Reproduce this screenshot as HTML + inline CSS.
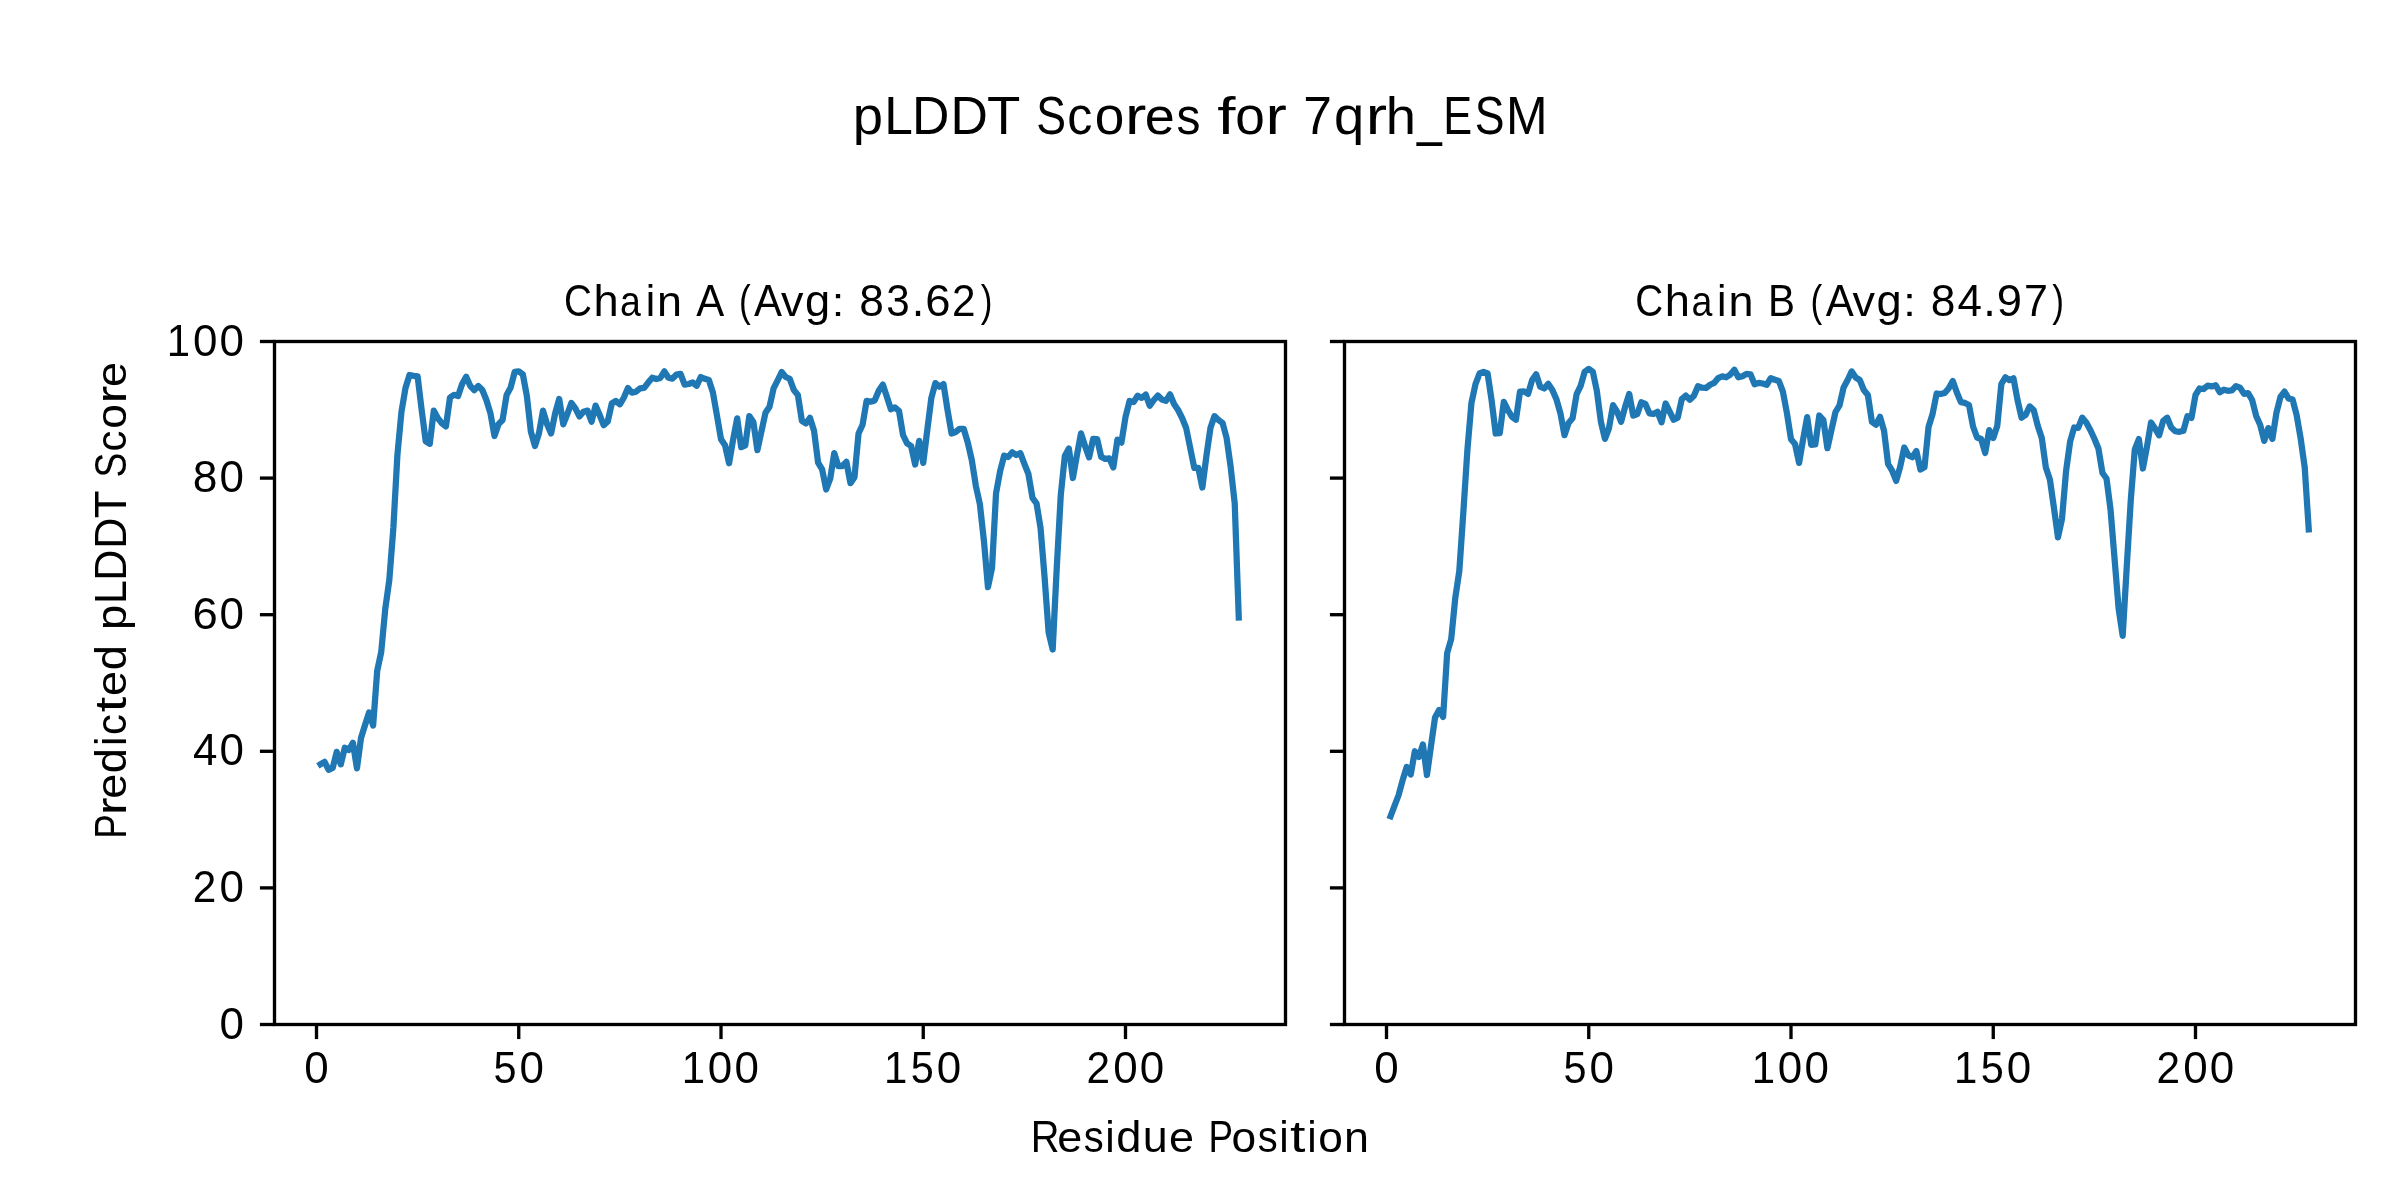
<!DOCTYPE html><html><head><meta charset="utf-8"><style>html,body{margin:0;padding:0;background:#fff;overflow:hidden}svg{display:block}text{font-family:"Liberation Sans",sans-serif;fill:#000}.t{opacity:0.999}</style></head><body>
<svg width="2400" height="1200" viewBox="0 0 2400 1200">
<rect width="2400" height="1200" fill="#fff"/>
<polyline points="320.55,764.30 324.59,761.90 328.63,769.80 332.68,768.00 336.73,751.90 340.77,764.40 344.81,747.70 348.86,750.00 352.90,742.70 356.95,768.30 361.00,738.00 365.04,725.00 369.08,712.50 373.13,725.50 377.18,671.00 381.22,652.00 385.26,609.00 389.31,580.00 393.36,528.00 397.40,455.00 401.44,412.00 405.49,388.00 409.53,375.00 413.58,375.80 417.62,376.40 421.67,410.00 425.72,441.30 429.76,443.80 433.81,410.60 437.85,418.30 441.89,423.30 445.94,426.40 449.99,397.50 454.03,394.80 458.07,396.00 462.12,384.00 466.16,376.80 470.21,385.80 474.25,390.20 478.30,386.00 482.35,390.00 486.39,400.00 490.44,413.30 494.48,436.00 498.52,424.20 502.57,420.00 506.62,395.00 510.66,387.50 514.70,371.90 518.75,371.40 522.79,374.20 526.84,395.80 530.88,431.70 534.93,446.00 538.98,433.30 543.02,410.60 547.07,424.20 551.11,433.50 555.15,413.30 559.20,398.90 563.25,424.30 567.29,414.20 571.34,403.00 575.38,408.30 579.42,416.40 583.47,411.70 587.51,410.60 591.56,421.80 595.61,405.60 599.65,415.00 603.69,425.20 607.74,421.50 611.78,403.50 615.83,401.00 619.88,404.30 623.92,397.50 627.96,388.10 632.01,392.70 636.06,391.70 640.10,388.30 644.14,387.90 648.19,382.50 652.24,377.70 656.28,379.00 660.33,377.90 664.37,371.40 668.41,377.70 672.46,378.70 676.50,374.50 680.55,373.80 684.60,384.60 688.64,384.00 692.68,382.50 696.73,385.80 700.77,377.00 704.82,378.80 708.87,380.00 712.91,392.50 716.95,415.50 721.00,439.30 725.05,445.30 729.09,463.20 733.13,439.40 737.18,418.30 741.22,447.20 745.27,445.30 749.32,416.10 753.36,422.00 757.40,450.20 761.45,431.30 765.50,412.70 769.54,406.70 773.59,388.30 777.63,380.40 781.67,372.10 785.72,377.00 789.76,378.75 793.81,390.00 797.86,395.00 801.90,420.80 805.94,423.50 809.99,417.90 814.03,430.70 818.08,462.70 822.12,469.30 826.17,489.50 830.22,478.70 834.26,453.10 838.30,466.00 842.35,466.00 846.39,461.80 850.44,483.20 854.49,477.30 858.53,433.50 862.58,424.70 866.62,400.80 870.66,401.70 874.71,400.40 878.75,390.80 882.80,384.60 886.85,396.70 890.89,409.20 894.93,407.50 898.98,410.80 903.02,435.00 907.07,443.30 911.12,446.00 915.16,464.50 919.21,440.80 923.25,462.90 927.29,430.00 931.34,398.00 935.38,383.10 939.43,386.70 943.48,384.10 947.52,410.00 951.56,433.50 955.61,432.00 959.65,428.75 963.70,428.75 967.75,442.50 971.79,460.00 975.84,485.80 979.88,504.20 983.92,540.80 987.97,587.20 992.01,568.00 996.06,493.20 1000.11,471.20 1004.15,455.60 1008.19,457.00 1012.24,452.30 1016.28,455.00 1020.33,453.20 1024.38,463.80 1028.42,474.00 1032.47,497.80 1036.51,503.30 1040.55,528.00 1044.60,577.50 1048.64,632.50 1052.69,649.50 1056.74,568.00 1060.78,495.00 1064.82,456.00 1068.87,448.40 1072.91,478.00 1076.96,455.00 1081.01,433.40 1085.05,446.00 1089.10,457.40 1093.14,438.90 1097.18,439.10 1101.23,457.00 1105.28,458.90 1109.32,458.30 1113.37,467.40 1117.41,439.60 1121.45,442.60 1125.50,417.00 1129.55,401.00 1133.59,402.00 1137.63,395.80 1141.68,397.90 1145.72,394.60 1149.77,405.80 1153.82,400.00 1157.86,395.60 1161.90,399.50 1165.95,400.90 1169.99,394.30 1174.04,404.00 1178.09,410.00 1182.13,418.00 1186.17,428.00 1190.22,448.00 1194.26,468.00 1198.31,467.80 1202.36,487.50 1206.40,456.00 1210.44,428.00 1214.49,416.10 1218.53,420.00 1222.58,423.00 1226.62,438.00 1230.67,467.00 1234.72,503.30 1238.76,617.60" fill="none" stroke="#1f77b4" stroke-width="6.25" stroke-linejoin="round" stroke-linecap="square"/>
<polyline points="1390.55,816.25 1394.59,805.60 1398.63,795.00 1402.68,780.00 1406.72,766.90 1410.77,774.40 1414.82,751.25 1418.86,756.90 1422.90,744.40 1426.95,775.00 1430.99,746.00 1435.04,717.50 1439.09,710.00 1443.13,716.90 1447.17,653.00 1451.22,639.00 1455.27,598.00 1459.31,571.00 1463.36,512.00 1467.40,450.00 1471.44,403.00 1475.49,384.20 1479.54,373.50 1483.58,371.80 1487.62,373.50 1491.67,400.80 1495.71,433.50 1499.76,433.10 1503.81,401.80 1507.85,410.00 1511.89,416.70 1515.94,419.75 1519.98,391.70 1524.03,391.40 1528.08,393.90 1532.12,380.00 1536.16,374.30 1540.21,386.70 1544.26,388.50 1548.30,383.90 1552.35,390.00 1556.39,399.20 1560.43,413.30 1564.48,435.20 1568.53,423.00 1572.57,418.30 1576.62,394.20 1580.66,385.80 1584.70,371.70 1588.75,368.90 1592.80,371.70 1596.84,390.80 1600.88,421.70 1604.93,438.90 1608.97,428.30 1613.02,405.20 1617.07,411.70 1621.11,421.80 1625.15,406.70 1629.20,393.90 1633.24,415.60 1637.29,414.00 1641.34,402.30 1645.38,404.00 1649.42,413.30 1653.47,413.90 1657.51,411.80 1661.56,422.30 1665.61,403.50 1669.65,411.70 1673.69,419.75 1677.74,417.70 1681.78,399.20 1685.83,395.60 1689.88,399.75 1693.92,395.80 1697.96,386.30 1702.01,387.70 1706.06,388.00 1710.10,384.75 1714.14,382.90 1718.19,378.10 1722.24,376.40 1726.28,377.25 1730.33,374.60 1734.37,369.75 1738.41,377.25 1742.46,376.25 1746.51,373.90 1750.55,374.30 1754.60,384.30 1758.64,382.90 1762.68,383.50 1766.73,384.75 1770.78,378.10 1774.82,379.75 1778.87,381.00 1782.91,391.70 1786.95,413.30 1791.00,439.30 1795.05,444.00 1799.09,462.90 1803.13,439.30 1807.18,417.10 1811.22,444.90 1815.27,444.50 1819.32,415.50 1823.36,420.00 1827.40,448.20 1831.45,430.00 1835.49,412.00 1839.54,405.30 1843.59,387.50 1847.63,380.00 1851.67,371.40 1855.72,377.50 1859.76,380.00 1863.81,390.00 1867.86,395.00 1871.90,421.70 1875.94,424.80 1879.99,416.80 1884.03,430.70 1888.08,464.00 1892.12,470.70 1896.17,480.90 1900.22,466.70 1904.26,447.50 1908.30,455.30 1912.35,457.20 1916.39,451.10 1920.44,469.50 1924.49,467.30 1928.53,427.00 1932.58,414.00 1936.62,393.50 1940.66,394.00 1944.71,393.00 1948.76,388.30 1952.80,381.00 1956.85,392.50 1960.89,402.10 1964.93,402.90 1968.98,405.00 1973.03,426.50 1977.07,437.50 1981.12,439.00 1985.16,453.00 1989.20,430.20 1993.25,438.00 1997.30,425.80 2001.34,384.00 2005.38,377.30 2009.43,380.20 2013.47,378.30 2017.52,400.00 2021.57,417.70 2025.61,415.00 2029.65,406.40 2033.70,410.00 2037.74,425.80 2041.79,438.00 2045.84,467.50 2049.88,479.40 2053.93,507.80 2057.97,537.30 2062.01,518.80 2066.06,471.20 2070.11,441.70 2074.15,427.50 2078.19,427.90 2082.24,417.70 2086.28,422.50 2090.33,430.00 2094.38,438.80 2098.42,448.50 2102.47,473.00 2106.51,478.50 2110.55,509.70 2114.60,559.20 2118.64,608.70 2122.69,635.80 2126.74,567.00 2130.78,500.00 2134.82,449.30 2138.87,439.10 2142.91,468.50 2146.96,446.70 2151.01,422.50 2155.05,428.50 2159.10,435.30 2163.14,421.00 2167.18,417.70 2171.23,427.50 2175.28,431.25 2179.32,431.80 2183.36,430.80 2187.41,416.25 2191.45,417.90 2195.50,395.00 2199.55,388.50 2203.59,389.00 2207.64,385.60 2211.68,386.40 2215.72,385.20 2219.77,392.25 2223.82,389.75 2227.86,390.80 2231.90,390.40 2235.95,386.10 2239.99,387.60 2244.04,393.90 2248.09,393.10 2252.13,400.00 2256.18,416.00 2260.22,425.00 2264.26,440.90 2268.31,428.10 2272.36,438.90 2276.40,413.00 2280.44,397.00 2284.49,391.60 2288.53,398.40 2292.58,399.60 2296.62,415.00 2300.67,438.50 2304.72,467.50 2308.76,529.40" fill="none" stroke="#1f77b4" stroke-width="6.25" stroke-linejoin="round" stroke-linecap="square"/>
<rect x="274.5" y="341.5" width="1011.0" height="683.0" fill="none" stroke="#000" stroke-width="3.33" stroke-linejoin="miter"/>
<line x1="259.92" y1="1024.50" x2="274.50" y2="1024.50" stroke="#000" stroke-width="3.33"/>
<line x1="259.92" y1="887.90" x2="274.50" y2="887.90" stroke="#000" stroke-width="3.33"/>
<line x1="259.92" y1="751.30" x2="274.50" y2="751.30" stroke="#000" stroke-width="3.33"/>
<line x1="259.92" y1="614.70" x2="274.50" y2="614.70" stroke="#000" stroke-width="3.33"/>
<line x1="259.92" y1="478.10" x2="274.50" y2="478.10" stroke="#000" stroke-width="3.33"/>
<line x1="259.92" y1="341.50" x2="274.50" y2="341.50" stroke="#000" stroke-width="3.33"/>
<line x1="316.50" y1="1024.50" x2="316.50" y2="1039.08" stroke="#000" stroke-width="3.33"/>
<line x1="518.75" y1="1024.50" x2="518.75" y2="1039.08" stroke="#000" stroke-width="3.33"/>
<line x1="721.00" y1="1024.50" x2="721.00" y2="1039.08" stroke="#000" stroke-width="3.33"/>
<line x1="923.25" y1="1024.50" x2="923.25" y2="1039.08" stroke="#000" stroke-width="3.33"/>
<line x1="1125.50" y1="1024.50" x2="1125.50" y2="1039.08" stroke="#000" stroke-width="3.33"/>
<rect x="1344.5" y="341.5" width="1011.0" height="683.0" fill="none" stroke="#000" stroke-width="3.33" stroke-linejoin="miter"/>
<line x1="1329.92" y1="1024.50" x2="1344.50" y2="1024.50" stroke="#000" stroke-width="3.33"/>
<line x1="1329.92" y1="887.90" x2="1344.50" y2="887.90" stroke="#000" stroke-width="3.33"/>
<line x1="1329.92" y1="751.30" x2="1344.50" y2="751.30" stroke="#000" stroke-width="3.33"/>
<line x1="1329.92" y1="614.70" x2="1344.50" y2="614.70" stroke="#000" stroke-width="3.33"/>
<line x1="1329.92" y1="478.10" x2="1344.50" y2="478.10" stroke="#000" stroke-width="3.33"/>
<line x1="1329.92" y1="341.50" x2="1344.50" y2="341.50" stroke="#000" stroke-width="3.33"/>
<line x1="1386.50" y1="1024.50" x2="1386.50" y2="1039.08" stroke="#000" stroke-width="3.33"/>
<line x1="1588.75" y1="1024.50" x2="1588.75" y2="1039.08" stroke="#000" stroke-width="3.33"/>
<line x1="1791.00" y1="1024.50" x2="1791.00" y2="1039.08" stroke="#000" stroke-width="3.33"/>
<line x1="1993.25" y1="1024.50" x2="1993.25" y2="1039.08" stroke="#000" stroke-width="3.33"/>
<line x1="2195.50" y1="1024.50" x2="2195.50" y2="1039.08" stroke="#000" stroke-width="3.33"/>
<g class="t">
<text transform="matrix(1.0889 0 0 1.0418 852.79 134.00)" font-size="50.00">p</text>
<text transform="matrix(1.0297 0 0 1.0596 884.21 134.00)" font-size="50.00">L</text>
<text transform="matrix(1.0355 0 0 1.0596 912.06 134.00)" font-size="50.00">D</text>
<text transform="matrix(1.0355 0 0 1.0596 950.60 134.00)" font-size="50.00">D</text>
<text transform="matrix(1.0916 0 0 1.0596 987.09 134.00)" font-size="50.00">T</text>
<text transform="matrix(0.8922 0 0 1.0629 1036.21 134.00)" font-size="50.00">S</text>
<text transform="matrix(1.0042 0 0 1.0408 1067.33 134.00)" font-size="50.00">c</text>
<text transform="matrix(1.0640 0 0 1.0408 1094.75 134.00)" font-size="50.00">o</text>
<text transform="matrix(1.2823 0 0 1.0408 1125.12 134.00)" font-size="50.00">r</text>
<text transform="matrix(1.0810 0 0 1.0408 1144.78 134.00)" font-size="50.00">e</text>
<text transform="matrix(0.9594 0 0 1.0437 1176.48 134.00)" font-size="50.00">s</text>
<text transform="matrix(1.3142 0 0 1.0499 1217.30 134.00)" font-size="50.00">f</text>
<text transform="matrix(1.0640 0 0 1.0408 1235.22 134.00)" font-size="50.00">o</text>
<text transform="matrix(1.2823 0 0 1.0408 1265.60 134.00)" font-size="50.00">r</text>
<text transform="matrix(1.0320 0 0 1.0596 1303.25 134.00)" font-size="50.00">7</text>
<text transform="matrix(1.0866 0 0 1.0408 1334.11 134.00)" font-size="50.00">q</text>
<text transform="matrix(1.2823 0 0 1.0408 1365.68 134.00)" font-size="50.00">r</text>
<text transform="matrix(1.0866 0 0 1.0485 1385.87 134.00)" font-size="50.00">h</text>
<text transform="matrix(0.8926 0 0 1.1867 1416.99 134.00)" font-size="50.00">_</text>
<text transform="matrix(0.8674 0 0 1.0596 1443.18 134.00)" font-size="50.00">E</text>
<text transform="matrix(0.8922 0 0 1.0629 1474.72 134.00)" font-size="50.00">S</text>
<text transform="matrix(0.9979 0 0 1.0596 1506.03 134.00)" font-size="50.00">M</text>
<text transform="matrix(0.9280 0 0 1.0629 564.04 315.85)" font-size="41.67">C</text>
<text transform="matrix(1.0853 0 0 1.0485 593.39 315.85)" font-size="41.67">h</text>
<text transform="matrix(0.8989 0 0 1.0408 620.05 315.85)" font-size="41.67">a</text>
<text transform="matrix(1.0219 0 0 1.0485 645.75 315.85)" font-size="41.67">i</text>
<text transform="matrix(1.0778 0 0 1.0408 657.04 315.85)" font-size="41.67">n</text>
<text transform="matrix(1.0070 0 0 1.0596 696.13 315.85)" font-size="41.67">A</text>
<text transform="matrix(0.8450 0 0 1.0472 739.01 315.85)" font-size="41.67">(</text>
<text transform="matrix(1.0070 0 0 1.0596 754.11 315.85)" font-size="41.67">A</text>
<text transform="matrix(1.0789 0 0 1.0351 781.01 315.85)" font-size="41.67">v</text>
<text transform="matrix(1.0865 0 0 1.0437 804.97 315.85)" font-size="41.67">g</text>
<text transform="matrix(1.0817 0 0 0.9787 831.78 315.85)" font-size="41.67">:</text>
<text transform="matrix(1.0652 0 0 1.0629 859.18 315.85)" font-size="41.67">8</text>
<text transform="matrix(1.0120 0 0 1.0629 886.35 315.85)" font-size="41.67">3</text>
<text transform="matrix(1.0817 0 0 1.1598 911.63 315.85)" font-size="41.67">.</text>
<text transform="matrix(1.0906 0 0 1.0629 925.13 315.85)" font-size="41.67">6</text>
<text transform="matrix(1.0157 0 0 1.0629 951.95 315.85)" font-size="41.67">2</text>
<text transform="matrix(0.8450 0 0 1.0472 980.66 315.85)" font-size="41.67">)</text>
<text transform="matrix(0.9287 0 0 1.0629 1635.33 315.85)" font-size="41.67">C</text>
<text transform="matrix(1.0861 0 0 1.0485 1664.71 315.85)" font-size="41.67">h</text>
<text transform="matrix(0.8996 0 0 1.0408 1691.40 315.85)" font-size="41.67">a</text>
<text transform="matrix(1.0227 0 0 1.0485 1717.11 315.85)" font-size="41.67">i</text>
<text transform="matrix(1.0786 0 0 1.0408 1728.41 315.85)" font-size="41.67">n</text>
<text transform="matrix(0.9720 0 0 1.0596 1768.05 315.85)" font-size="41.67">B</text>
<text transform="matrix(0.8457 0 0 1.0472 1810.52 315.85)" font-size="41.67">(</text>
<text transform="matrix(1.0078 0 0 1.0596 1825.63 315.85)" font-size="41.67">A</text>
<text transform="matrix(1.0797 0 0 1.0351 1852.55 315.85)" font-size="41.67">v</text>
<text transform="matrix(1.0873 0 0 1.0437 1876.53 315.85)" font-size="41.67">g</text>
<text transform="matrix(1.0825 0 0 0.9787 1903.36 315.85)" font-size="41.67">:</text>
<text transform="matrix(1.0660 0 0 1.0629 1930.78 315.85)" font-size="41.67">8</text>
<text transform="matrix(1.0547 0 0 1.0596 1957.43 315.85)" font-size="41.67">4</text>
<text transform="matrix(1.0825 0 0 1.1598 1983.27 315.85)" font-size="41.67">.</text>
<text transform="matrix(1.0893 0 0 1.0629 1996.68 315.85)" font-size="41.67">9</text>
<text transform="matrix(1.0316 0 0 1.0596 2023.91 315.85)" font-size="41.67">7</text>
<text transform="matrix(0.8457 0 0 1.0472 2052.35 315.85)" font-size="41.67">)</text>
<text transform="matrix(0.9554 0 0 1.0596 1030.73 1151.75)" font-size="41.67">R</text>
<text transform="matrix(1.0790 0 0 1.0408 1057.35 1151.75)" font-size="41.67">e</text>
<text transform="matrix(0.9576 0 0 1.0437 1083.72 1151.75)" font-size="41.67">s</text>
<text transform="matrix(1.0212 0 0 1.0485 1105.34 1151.75)" font-size="41.67">i</text>
<text transform="matrix(1.0858 0 0 1.0485 1116.22 1151.75)" font-size="41.67">d</text>
<text transform="matrix(1.0771 0 0 1.0601 1142.87 1151.75)" font-size="41.67">u</text>
<text transform="matrix(1.0790 0 0 1.0408 1169.02 1151.75)" font-size="41.67">e</text>
<text transform="matrix(0.8835 0 0 1.0596 1208.53 1151.75)" font-size="41.67">P</text>
<text transform="matrix(1.0620 0 0 1.0408 1231.52 1151.75)" font-size="41.67">o</text>
<text transform="matrix(0.9576 0 0 1.0437 1257.70 1151.75)" font-size="41.67">s</text>
<text transform="matrix(1.0212 0 0 1.0485 1279.32 1151.75)" font-size="41.67">i</text>
<text transform="matrix(1.3352 0 0 1.0861 1290.08 1151.75)" font-size="41.67">t</text>
<text transform="matrix(1.0212 0 0 1.0485 1307.20 1151.75)" font-size="41.67">i</text>
<text transform="matrix(1.0620 0 0 1.0408 1318.13 1151.75)" font-size="41.67">o</text>
<text transform="matrix(1.0771 0 0 1.0408 1343.96 1151.75)" font-size="41.67">n</text>
<g transform="rotate(-90)">
<text transform="matrix(0.8843 0 0 1.0596 -838.72 126.00)" font-size="41.67">P</text>
<text transform="matrix(1.2811 0 0 1.0408 -815.16 126.00)" font-size="41.67">r</text>
<text transform="matrix(1.0800 0 0 1.0408 -798.80 126.00)" font-size="41.67">e</text>
<text transform="matrix(1.0867 0 0 1.0485 -773.16 126.00)" font-size="41.67">d</text>
<text transform="matrix(1.0221 0 0 1.0485 -746.03 126.00)" font-size="41.67">i</text>
<text transform="matrix(1.0033 0 0 1.0408 -735.01 126.00)" font-size="41.67">c</text>
<text transform="matrix(1.3363 0 0 1.0861 -712.35 126.00)" font-size="41.67">t</text>
<text transform="matrix(1.0800 0 0 1.0408 -695.91 126.00)" font-size="41.67">e</text>
<text transform="matrix(1.0867 0 0 1.0485 -670.26 126.00)" font-size="41.67">d</text>
<text transform="matrix(1.0878 0 0 1.0418 -630.11 126.00)" font-size="41.67">p</text>
<text transform="matrix(1.0287 0 0 1.0596 -603.96 126.00)" font-size="41.67">L</text>
<text transform="matrix(1.0345 0 0 1.0596 -580.77 126.00)" font-size="41.67">D</text>
<text transform="matrix(1.0345 0 0 1.0596 -548.69 126.00)" font-size="41.67">D</text>
<text transform="matrix(1.0905 0 0 1.0596 -518.30 126.00)" font-size="41.67">T</text>
<text transform="matrix(0.8913 0 0 1.0629 -477.41 126.00)" font-size="41.67">S</text>
<text transform="matrix(1.0033 0 0 1.0408 -451.50 126.00)" font-size="41.67">c</text>
<text transform="matrix(1.0629 0 0 1.0408 -428.68 126.00)" font-size="41.67">o</text>
<text transform="matrix(1.2811 0 0 1.0408 -403.39 126.00)" font-size="41.67">r</text>
<text transform="matrix(1.0800 0 0 1.0408 -387.03 126.00)" font-size="41.67">e</text>
</g>
<text transform="matrix(1.0541 0 0 1.0629 219.49 1038.50)" font-size="41.67">0</text>
<text transform="matrix(1.0161 0 0 1.0629 192.87 901.90)" font-size="41.67">2</text>
<text transform="matrix(1.0541 0 0 1.0629 219.49 901.90)" font-size="41.67">0</text>
<text transform="matrix(1.0543 0 0 1.0596 192.97 765.30)" font-size="41.67">4</text>
<text transform="matrix(1.0541 0 0 1.0629 219.49 765.30)" font-size="41.67">0</text>
<text transform="matrix(1.0910 0 0 1.0629 192.55 628.70)" font-size="41.67">6</text>
<text transform="matrix(1.0541 0 0 1.0629 219.49 628.70)" font-size="41.67">0</text>
<text transform="matrix(1.0656 0 0 1.0629 192.85 492.10)" font-size="41.67">8</text>
<text transform="matrix(1.0541 0 0 1.0629 219.49 492.10)" font-size="41.67">0</text>
<text transform="matrix(1.0068 0 0 1.0596 166.82 355.50)" font-size="41.67">1</text>
<text transform="matrix(1.0541 0 0 1.0629 192.98 355.50)" font-size="41.67">0</text>
<text transform="matrix(1.0541 0 0 1.0629 219.49 355.50)" font-size="41.67">0</text>
<text transform="matrix(1.0541 0 0 1.0629 304.29 1082.80)" font-size="41.67">0</text>
<text transform="matrix(0.9949 0 0 1.0596 493.57 1082.80)" font-size="41.67">5</text>
<text transform="matrix(1.0541 0 0 1.0629 519.56 1082.80)" font-size="41.67">0</text>
<text transform="matrix(1.0068 0 0 1.0596 681.71 1082.80)" font-size="41.67">1</text>
<text transform="matrix(1.0541 0 0 1.0629 707.87 1082.80)" font-size="41.67">0</text>
<text transform="matrix(1.0541 0 0 1.0629 734.38 1082.80)" font-size="41.67">0</text>
<text transform="matrix(1.0068 0 0 1.0596 883.96 1082.80)" font-size="41.67">1</text>
<text transform="matrix(0.9949 0 0 1.0596 910.64 1082.80)" font-size="41.67">5</text>
<text transform="matrix(1.0541 0 0 1.0629 936.63 1082.80)" font-size="41.67">0</text>
<text transform="matrix(1.0161 0 0 1.0629 1086.52 1082.80)" font-size="41.67">2</text>
<text transform="matrix(1.0541 0 0 1.0629 1113.13 1082.80)" font-size="41.67">0</text>
<text transform="matrix(1.0541 0 0 1.0629 1139.64 1082.80)" font-size="41.67">0</text>
<text transform="matrix(1.0541 0 0 1.0629 1374.29 1082.80)" font-size="41.67">0</text>
<text transform="matrix(0.9949 0 0 1.0596 1563.57 1082.80)" font-size="41.67">5</text>
<text transform="matrix(1.0541 0 0 1.0629 1589.56 1082.80)" font-size="41.67">0</text>
<text transform="matrix(1.0068 0 0 1.0596 1751.71 1082.80)" font-size="41.67">1</text>
<text transform="matrix(1.0541 0 0 1.0629 1777.87 1082.80)" font-size="41.67">0</text>
<text transform="matrix(1.0541 0 0 1.0629 1804.38 1082.80)" font-size="41.67">0</text>
<text transform="matrix(1.0068 0 0 1.0596 1953.96 1082.80)" font-size="41.67">1</text>
<text transform="matrix(0.9949 0 0 1.0596 1980.64 1082.80)" font-size="41.67">5</text>
<text transform="matrix(1.0541 0 0 1.0629 2006.63 1082.80)" font-size="41.67">0</text>
<text transform="matrix(1.0161 0 0 1.0629 2156.52 1082.80)" font-size="41.67">2</text>
<text transform="matrix(1.0541 0 0 1.0629 2183.13 1082.80)" font-size="41.67">0</text>
<text transform="matrix(1.0541 0 0 1.0629 2209.64 1082.80)" font-size="41.67">0</text>
</g>
</svg></body></html>
